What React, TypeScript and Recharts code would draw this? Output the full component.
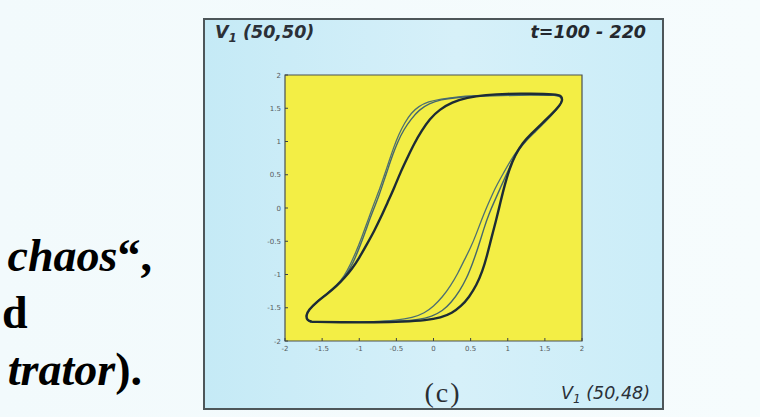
import React from "react";
import { ScatterChart, Scatter, XAxis, YAxis, ReferenceArea } from "recharts";

// ---- data ----
const xTicks = [-2, -1.5, -1, -0.5, 0, 0.5, 1, 1.5, 2];
const yTicks = [-2, -1.5, -1, -0.5, 0, 0.5, 1, 1.5, 2];
const xTickLabels = ["-2", "-1.5", "-1", "-0.5", "0", "0.5", "1", "1.5", "2"];
const yTickLabels = ["-2", "-1.5", "-1", "-0.5", "0", "0.5", "1", "1.5", "2"];

const title = "V";
const titleSub = "1";
const titleRest = " (50,50)";
const timeLabel = "t=100 - 220";
const panelLabel = "(c)";
const xLabelRest = " (50,48)";

const loopThick: [number, number][] = [
  [-1.64, -1.71], [-1.2, -1.72], [-0.8, -1.72], [-0.4, -1.71], [-0.1, -1.69], [0.1, -1.65],
  [0.25, -1.58], [0.37, -1.48], [0.48, -1.34], [0.58, -1.16], [0.66, -0.95], [0.72, -0.72],
  [0.78, -0.45], [0.84, -0.2], [0.9, 0.08], [0.96, 0.35], [1.02, 0.58], [1.1, 0.8], [1.2, 0.98],
  [1.32, 1.12], [1.46, 1.27], [1.6, 1.42], [1.7, 1.54], [1.74, 1.62], [1.72, 1.69], [1.65, 1.71],
  [1.3, 1.72], [1.0, 1.72], [0.7, 1.7], [0.45, 1.66], [0.25, 1.59], [0.08, 1.48], [-0.05, 1.34],
  [-0.16, 1.16], [-0.26, 0.97], [-0.35, 0.76], [-0.44, 0.55], [-0.53, 0.3], [-0.62, 0.08],
  [-0.7, -0.12], [-0.8, -0.35], [-0.9, -0.55], [-1.0, -0.75], [-1.1, -0.92], [-1.2, -1.05],
  [-1.3, -1.17], [-1.44, -1.3], [-1.58, -1.42], [-1.68, -1.53], [-1.72, -1.62], [-1.7, -1.69],
  [-1.64, -1.71],
];

const loopMid: [number, number][] = [
  [-1.64, -1.71], [-1.2, -1.71], [-0.8, -1.71], [-0.45, -1.7], [-0.2, -1.68], [-0.02, -1.63],
  [0.12, -1.55], [0.24, -1.42], [0.35, -1.25], [0.45, -1.05], [0.53, -0.82], [0.6, -0.6],
  [0.68, -0.3], [0.75, -0.08], [0.82, 0.1], [0.9, 0.3], [0.98, 0.5], [1.06, 0.7], [1.15, 0.88],
  [1.25, 1.02], [1.38, 1.16], [1.52, 1.32], [1.65, 1.47], [1.73, 1.58], [1.73, 1.66], [1.67, 1.7],
  [1.3, 1.7], [0.9, 1.69], [0.55, 1.68], [0.3, 1.66], [0.1, 1.63], [-0.06, 1.57], [-0.19, 1.48],
  [-0.3, 1.34], [-0.4, 1.18], [-0.48, 1.0], [-0.55, 0.8], [-0.61, 0.6], [-0.67, 0.4], [-0.73, 0.2],
  [-0.8, 0.0], [-0.87, -0.2], [-0.93, -0.4], [-1.0, -0.6], [-1.08, -0.82], [-1.17, -1.0],
  [-1.28, -1.15], [-1.42, -1.28], [-1.56, -1.4], [-1.67, -1.52], [-1.72, -1.62], [-1.69, -1.7],
  [-1.64, -1.71],
];

const loopInner: [number, number][] = [
  [-1.64, -1.72], [-1.2, -1.72], [-0.8, -1.71], [-0.5, -1.69], [-0.28, -1.65], [-0.12, -1.58],
  [0.0, -1.48], [0.12, -1.34], [0.23, -1.17], [0.33, -0.98], [0.42, -0.77], [0.5, -0.6],
  [0.58, -0.38], [0.65, -0.17], [0.72, 0.02], [0.79, 0.2], [0.86, 0.36], [0.94, 0.52], [1.03, 0.7],
  [1.13, 0.87], [1.24, 1.01], [1.37, 1.15], [1.51, 1.3], [1.64, 1.46], [1.72, 1.57], [1.74, 1.65],
  [1.69, 1.7], [1.3, 1.71], [0.9, 1.7], [0.55, 1.69], [0.3, 1.67], [0.1, 1.64], [-0.07, 1.6],
  [-0.2, 1.53], [-0.3, 1.43], [-0.39, 1.28], [-0.47, 1.1], [-0.54, 0.9], [-0.6, 0.7], [-0.66, 0.5],
  [-0.72, 0.3], [-0.79, 0.1], [-0.85, -0.08], [-0.91, -0.27], [-0.97, -0.45], [-1.04, -0.65],
  [-1.12, -0.85], [-1.2, -1.02], [-1.3, -1.16], [-1.44, -1.29], [-1.58, -1.41], [-1.68, -1.53],
  [-1.72, -1.63], [-1.69, -1.7], [-1.64, -1.72],
];

const toPts = (arr: [number, number][]) => arr.map(([x, y]) => ({ x, y }));

const TM = 4;
const tickColor = "#555b5e";
const markColor = "#3a4246";

const LeftTick = (props: any) => {
  const { x, y, index } = props;
  return (
    <g>
      <line x1={x + TM} x2={x + TM + 3} y1={y} y2={y} stroke={markColor} strokeWidth={1} />
      <text x={x} y={y} dy={2.5} textAnchor="end" fontSize={7} fill={tickColor} fontFamily="DejaVu Sans">
        {yTickLabels[index]}
      </text>
    </g>
  );
};

const BottomTick = (props: any) => {
  const { x, y, index } = props;
  return (
    <g>
      <line x1={x} x2={x} y1={y - TM} y2={y - TM - 3} stroke={markColor} strokeWidth={1} />
      <text x={x} y={y} dy={6} textAnchor="middle" fontSize={7} fill={tickColor} fontFamily="DejaVu Sans">
        {xTickLabels[index]}
      </text>
    </g>
  );
};

const TopTick = (props: any) => {
  const { x, y } = props;
  return <line x1={x} x2={x} y1={y} y2={y + 3} stroke={markColor} strokeWidth={1} />;
};

const RightTick = (props: any) => {
  const { x, y } = props;
  return <line x1={x} x2={x - 3} y1={y} y2={y} stroke={markColor} strokeWidth={1} />;
};

export default function App() {
  const serif = "'Liberation Serif', 'Times New Roman', serif";
  const sans = "'DejaVu Sans', sans-serif";
  return (
    <div
      style={{
        position: "absolute",
        left: 0,
        top: 0,
        width: 760,
        height: 417,
        overflow: "hidden",
        background: "linear-gradient(90deg, #f2fafc 0%, #f6fcfd 100%)",
      }}
    >
      <div
        style={{
          position: "absolute",
          left: 203,
          top: 18,
          width: 461,
          height: 392,
          boxSizing: "border-box",
          border: "2px solid #4d5659",
          background: "linear-gradient(90deg, #c5eaf6 0%, #d6f0f9 55%, #cbedf8 100%)",
        }}
      />
      <div style={{ position: "absolute", left: 204, top: 19 }}>
        <ScatterChart width={459} height={390} margin={{ top: 56, right: 81, bottom: 48, left: 51 }}>
          <XAxis
            dataKey="x"
            type="number"
            domain={[-2, 2]}
            ticks={xTicks}
            allowDataOverflow
            axisLine={false}
            tickSize={0}
            tickMargin={TM}
            height={20}
            tick={<BottomTick />}
            interval={0}
          />
          <YAxis
            dataKey="y"
            type="number"
            domain={[-2, 2]}
            ticks={yTicks}
            allowDataOverflow
            axisLine={false}
            tickSize={0}
            tickMargin={TM}
            width={30}
            tick={<LeftTick />}
            interval={0}
          />
          <XAxis
            xAxisId="top"
            orientation="top"
            dataKey="x"
            type="number"
            domain={[-2, 2]}
            ticks={xTicks}
            allowDataOverflow
            axisLine={false}
            tickSize={0}
            tickMargin={0}
            height={0}
            tick={<TopTick />}
            interval={0}
          />
          <YAxis
            yAxisId="right"
            orientation="right"
            dataKey="y"
            type="number"
            domain={[-2, 2]}
            ticks={yTicks}
            allowDataOverflow
            axisLine={false}
            tickSize={0}
            tickMargin={0}
            width={0}
            tick={<RightTick />}
            interval={0}
          />
          <ReferenceArea
            x1={-2}
            x2={2}
            y1={-2}
            y2={2}
            fill="#f3ee45"
            fillOpacity={1}
            stroke="#4a5053"
            strokeWidth={1.2}
            ifOverflow="extendDomain"
          />
          <Scatter
            data={toPts(loopInner)}
            line={{ stroke: "#4d6f72", strokeWidth: 1.3 }}
            lineJointType="basis"
            shape={() => <g />}
            isAnimationActive={false}
          />
          <Scatter
            data={toPts(loopMid)}
            line={{ stroke: "#45676c", strokeWidth: 1.4 }}
            lineJointType="basis"
            shape={() => <g />}
            isAnimationActive={false}
          />
          <Scatter
            data={toPts(loopThick)}
            line={{ stroke: "#1d2c35", strokeWidth: 2.4 }}
            lineJointType="basis"
            shape={() => <g />}
            isAnimationActive={false}
          />
        </ScatterChart>
      </div>
      <svg
        width={760}
        height={417}
        style={{ position: "absolute", left: 0, top: 0, pointerEvents: "none" }}
      >
        <text x={215} y={38} fontFamily={sans} fontSize={17.5} fontStyle="italic" fontWeight={600} fill="#2b3038">
          {title}
          <tspan fontSize={12} dy={4}>{titleSub}</tspan>
          <tspan dy={-4}>{titleRest}</tspan>
        </text>
        <text x={646} y={38} textAnchor="end" fontFamily={sans} fontSize={17.5} fontStyle="italic" fontWeight={700} fill="#24282e">
          {timeLabel}
        </text>
        <text x={443} y={402} textAnchor="middle" fontFamily={serif} fontSize={28} letterSpacing={2} fill="#2a2e33">
          {panelLabel}
        </text>
        <text x={650} y={399} textAnchor="end" fontFamily={sans} fontSize={17.5} fontStyle="italic" fontWeight={500} fill="#2b3038">
          {title}
          <tspan fontSize={12} dy={4}>{titleSub}</tspan>
          <tspan dy={-4}>{xLabelRest}</tspan>
        </text>
        <text x={152} y={271} textAnchor="end" fontFamily={serif} fontSize={46} fontWeight={700} fill="#000">
          <tspan fontStyle="italic">chaos</tspan>
          <tspan>“,</tspan>
        </text>
        <text x={2} y={328} fontFamily={serif} fontSize={46} fontWeight={700} fill="#000">
          d
        </text>
        <text x={142} y={385} textAnchor="end" fontFamily={serif} fontSize={46} fontWeight={700} fill="#000">
          <tspan fontStyle="italic">trator</tspan>
          <tspan>).</tspan>
        </text>
      </svg>
    </div>
  );
}
